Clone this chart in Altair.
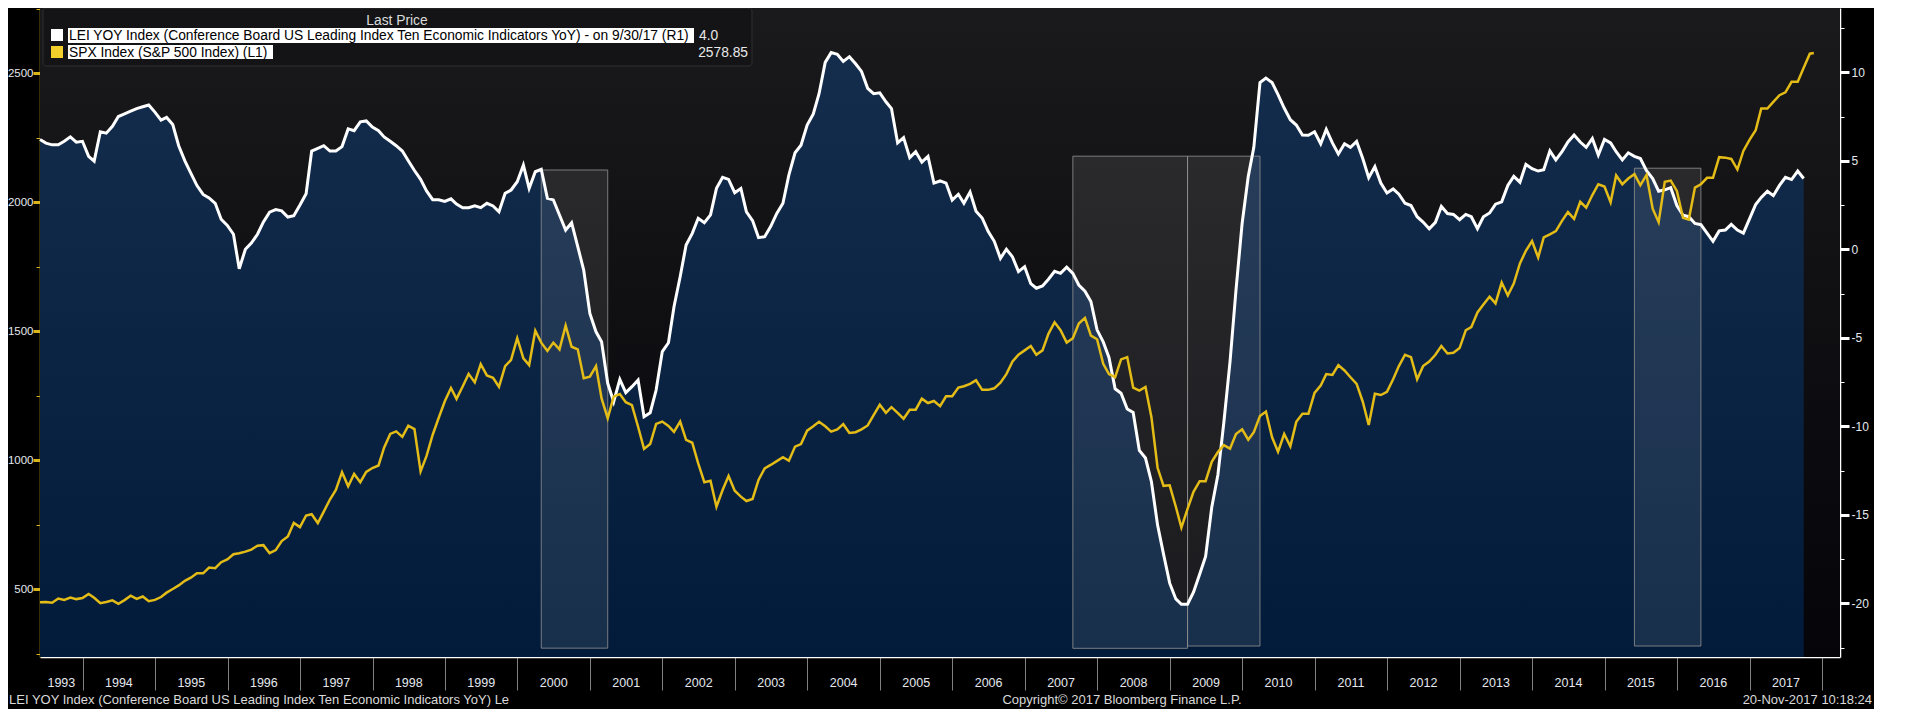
import altair as alt
import pandas as pd

# ---------------- data ----------------
lei_first_month = "1993-05-01"
lei_1993 = [6.2, 6.0, 5.9, 5.9, 6.1, 6.35, 6.05, 6.1]
lei_1994 = [5.25, 4.98, 6.64, 6.56, 6.95, 7.5, 7.65, 7.8, 7.95, 8.05, 8.15, 7.75]
lei_1995 = [7.3, 7.45, 7.05, 5.85, 5.0, 4.3, 3.6, 3.1, 2.9, 2.6, 1.7, 1.35]
lei_1996 = [0.85, -1.1, 0.0, 0.35, 0.85, 1.55, 2.1, 2.24, 2.17, 1.82, 1.9, 2.5]
lei_1997 = [3.14, 5.55, 5.7, 5.85, 5.55, 5.55, 5.8, 6.8, 6.7, 7.2, 7.25, 6.9]
lei_1998 = [6.7, 6.35, 6.1, 5.85, 5.55, 5.0, 4.45, 3.95, 3.3, 2.8, 2.8, 2.7]
lei_1999 = [2.85, 2.55, 2.35, 2.35, 2.45, 2.35, 2.6, 2.45, 2.12, 3.16, 3.35, 3.82]
lei_2000 = [4.76, 3.44, 4.38, 4.52, 2.88, 2.79, 1.94, 1.09, 1.5, 0.15, -1.17, -3.62]
lei_2001 = [-4.66, -5.22, -7.57, -8.61, -7.35, -8.1, -7.76, -7.38, -9.46, -9.23, -7.95, -5.78]
lei_2002 = [-5.28, -3.24, -1.55, 0.24, 0.9, 1.75, 1.5, 1.94, 3.44, 4.07, 3.95, 3.2]
lei_2003 = [3.44, 2.12, 1.62, 0.66, 0.71, 1.28, 2.03, 2.6, 4.2, 5.45, 5.88, 7.02]
lei_2004 = [7.65, 8.79, 10.56, 11.11, 11.01, 10.61, 10.88, 10.48, 10.05, 9.09, 8.79, 8.84]
lei_2005 = [8.33, 7.95, 6.01, 6.31, 5.18, 5.51, 4.92, 5.25, 3.74, 3.86, 3.74, 2.78]
lei_2006 = [3.11, 2.6, 3.23, 2.15, 1.77, 1.01, 0.45, -0.51, 0.0, -0.43, -1.26, -0.98]
lei_2007 = [-1.94, -2.2, -2.07, -1.69, -1.24, -1.36, -1.01, -1.36, -2.02, -2.37, -2.95, -4.55]
lei_2008 = [-5.23, -6.11, -7.88, -8.13, -9.02, -9.22, -11.36, -11.79, -13.13, -15.58, -17.22, -18.86]
lei_2009 = [-19.75, -20.05, -20.05, -19.37, -18.36, -17.35, -14.57, -12.73, -9.77, -6.36, -2.32, 1.46]
lei_2010 = [4.12, 5.76, 9.42, 9.67, 9.42, 8.74, 7.98, 7.32, 7.02, 6.46, 6.44, 6.64]
lei_2011 = [5.96, 6.77, 6.01, 5.38, 5.96, 5.76, 6.09, 5.13, 4.04, 4.67, 3.74, 3.18]
lei_2012 = [3.41, 3.11, 2.6, 2.47, 1.84, 1.54, 1.16, 1.52, 2.42, 2.02, 1.97, 1.67]
lei_2013 = [1.97, 1.84, 1.16, 1.84, 2.05, 2.55, 2.68, 3.61, 4.12, 3.79, 4.8, 4.55]
lei_2014 = [4.42, 4.49, 5.56, 5.05, 5.51, 6.06, 6.46, 6.06, 5.76, 6.26, 5.33, 6.21]
lei_2015 = [6.01, 5.51, 5.05, 5.45, 5.25, 5.13, 4.44, 3.99, 3.28, 3.36, 3.48, 2.47]
lei_2016 = [1.92, 1.84, 1.46, 1.39, 0.91, 0.45, 1.04, 1.09, 1.41, 1.09, 0.91, 1.72]
lei_2017 = [2.53, 2.93, 3.28, 3.03, 3.61, 4.07, 3.94, 4.42, 4.0]

spx_first_month = "1993-05-01"
spx_1993 = [450, 451, 448, 464, 459, 468, 462, 466]
spx_1994 = [482, 467, 446, 451, 457, 444, 458, 475, 463, 472, 454, 459]
spx_1995 = [470, 487, 501, 515, 533, 545, 562, 562, 584, 582, 605, 616]
spx_1996 = [636, 640, 646, 654, 669, 671, 640, 652, 687, 705, 757, 741]
spx_1997 = [786, 791, 757, 801, 848, 885, 954, 899, 947, 915, 955, 970]
spx_1998 = [980, 1049, 1102, 1112, 1091, 1134, 1121, 957, 1017, 1099, 1164, 1229]
spx_1999 = [1280, 1238, 1286, 1335, 1302, 1373, 1329, 1320, 1285, 1365, 1389, 1473]
spx_2000 = [1395, 1369, 1502, 1456, 1424, 1456, 1430, 1522, 1440, 1430, 1318, 1324]
spx_2001 = [1365, 1240, 1163, 1247, 1257, 1225, 1214, 1130, 1044, 1063, 1141, 1150]
spx_2002 = [1133, 1110, 1150, 1079, 1068, 988, 915, 921, 820, 885, 939, 882]
spx_2003 = [859, 842, 850, 924, 969, 982, 997, 1012, 998, 1053, 1063, 1115]
spx_2004 = [1132, 1149, 1132, 1111, 1120, 1140, 1106, 1109, 1120, 1135, 1175, 1215]
spx_2005 = [1184, 1206, 1184, 1161, 1196, 1196, 1239, 1222, 1230, 1210, 1248, 1248]
spx_2006 = [1282, 1287, 1296, 1310, 1273, 1273, 1279, 1301, 1334, 1383, 1409, 1426]
spx_2007 = [1443, 1409, 1426, 1490, 1535, 1504, 1456, 1473, 1530, 1552, 1483, 1469]
spx_2008 = [1374, 1334, 1322, 1391, 1400, 1282, 1270, 1284, 1167, 971, 901, 903]
spx_2009 = [820, 739, 812, 878, 919, 919, 994, 1032, 1059, 1045, 1102, 1120]
spx_2010 = [1080, 1109, 1172, 1189, 1089, 1033, 1102, 1054, 1149, 1180, 1180, 1261]
spx_2011 = [1290, 1334, 1331, 1369, 1348, 1322, 1296, 1227, 1137, 1258, 1253, 1265]
spx_2012 = [1314, 1365, 1409, 1400, 1314, 1365, 1383, 1409, 1443, 1414, 1417, 1435]
spx_2013 = [1504, 1516, 1573, 1604, 1634, 1608, 1689, 1639, 1685, 1763, 1812, 1850]
spx_2014 = [1786, 1864, 1876, 1888, 1928, 1962, 1936, 2002, 1979, 2028, 2070, 2061]
spx_2015 = [2000, 2104, 2070, 2092, 2109, 2066, 2106, 1975, 1923, 2079, 2084, 2044]
spx_2016 = [1940, 1933, 2057, 2070, 2095, 2095, 2175, 2173, 2168, 2127, 2199, 2242]
spx_2017 = [2279, 2363, 2363, 2389, 2415, 2426, 2467, 2467, 2521, 2576]
spx_last_date = "2017-11-20"
spx_last_value = 2578.85

box_start = ["2000-04-30", "2007-08-31", "2009-03-31", "2015-05-31"]
box_end = ["2001-03-31", "2009-03-31", "2010-03-31", "2016-04-30"]
box_top = [4.48, 5.26, 5.26, 4.58]
box_bottom = [-22.53, -22.54, -22.41, -22.41]

year_labels = list(range(1993, 2018))
year_boundaries = list(range(1994, 2019))
left_ticks = [250, 500, 750, 1000, 1250, 1500, 1750, 2000, 2250, 2500, 2750]
right_ticks = [-22.5, -20, -17.5, -15, -12.5, -10, -7.5, -5, -2.5, 0, 2.5, 5, 7.5, 10, 12.5]

x_domain = ["1993-05-31", "2018-04-01"]
left_domain = [237.6, 2753.0]
right_domain = [-23.03, 13.63]

legend_title = "Last Price"
legend_lei = "LEI YOY Index (Conference Board US Leading Index Ten Economic Indicators YoY) -  on 9/30/17  (R1)"
legend_lei_value = "4.0"
legend_spx = "SPX Index (S&P 500 Index)  (L1)"
legend_spx_value = "2578.85"
footer_left = "LEI YOY Index (Conference Board US Leading Index Ten Economic Indicators YoY) Le"
footer_mid = "Copyright\u00a9 2017 Bloomberg Finance L.P."
footer_right = "20-Nov-2017 10:18:24"

# ---------------- tables ----------------
lei_values = (lei_1993 + lei_1994 + lei_1995 + lei_1996 + lei_1997 + lei_1998 + lei_1999
              + lei_2000 + lei_2001 + lei_2002 + lei_2003 + lei_2004 + lei_2005 + lei_2006
              + lei_2007 + lei_2008 + lei_2009 + lei_2010 + lei_2011 + lei_2012 + lei_2013
              + lei_2014 + lei_2015 + lei_2016 + lei_2017)
spx_values = (spx_1993 + spx_1994 + spx_1995 + spx_1996 + spx_1997 + spx_1998 + spx_1999
              + spx_2000 + spx_2001 + spx_2002 + spx_2003 + spx_2004 + spx_2005 + spx_2006
              + spx_2007 + spx_2008 + spx_2009 + spx_2010 + spx_2011 + spx_2012 + spx_2013
              + spx_2014 + spx_2015 + spx_2016 + spx_2017)


def month_ends(first, n):
    d = pd.date_range(start=first, periods=n, freq="MS") + pd.offsets.MonthEnd(0)
    return [x.strftime("%Y-%m-%d") for x in d]


lei_df = pd.DataFrame({"date": month_ends(lei_first_month, len(lei_values)), "lei": lei_values})
spx_df = pd.DataFrame({"date": month_ends(spx_first_month, len(spx_values)) + [spx_last_date],
                       "spx": spx_values + [spx_last_value]})
box_df = pd.DataFrame({"start": box_start, "end": box_end, "top": box_top, "bottom": box_bottom})
bg_df = pd.DataFrame({"x0": [x_domain[0]], "x1": [x_domain[1]],
                      "y0": [right_domain[1]], "y1": [right_domain[0]]})

d0 = pd.Timestamp(x_domain[0])
d1 = pd.Timestamp(x_domain[1])
mids = []
for y in year_labels:
    a = max(pd.Timestamp(f"{y}-01-01"), d0)
    b = min(pd.Timestamp(f"{y + 1}-01-01"), d1)
    mids.append((a + (b - a) / 2).strftime("%Y-%m-%dT%H:%M:%S"))
year_df = pd.DataFrame({"mid": mids, "label": [str(y) for y in year_labels]})

# ---------------- style ----------------
W, H = 1800, 649
FONT = "Liberation Sans, Arial"
LABEL = "#e4e8ee"
YELLOW = "#e4bc17"
AXIS_YELLOW = "#d9b51c"


def dt(s):
    t = pd.Timestamp(s)
    return alt.DateTime(year=t.year, month=t.month, date=t.day, utc=True)


x_scale = alt.Scale(type="utc", domain=[dt(x_domain[0]), dt(x_domain[1])])
x_axis = alt.Axis(values=[dt(f"{y}-01-01") for y in year_boundaries], labels=False,
                  tickSize=33, tickColor="#808080", tickWidth=1, domainColor="#ffffff",
                  domainWidth=1.5, grid=False, title=None)

r_scale = alt.Scale(domain=right_domain, nice=False, zero=False)
right_axis = alt.Axis(
    orient="right", values=right_ticks, title=None, grid=False,
    labelExpr="datum.value % 5 === 0 ? (datum.value < 0 ? '-' + abs(datum.value) : '' + datum.value) : ''",
    tickSize={"condition": {"test": "datum.value % 5 === 0", "value": 9}, "value": 4},
    tickWidth={"condition": {"test": "datum.value % 5 === 0", "value": 3}, "value": 1},
    tickColor="#ffffff", domainColor="#ffffff", domainWidth=1.5,
    labelColor=LABEL, labelFont=FONT, labelFontSize=12, labelPadding=2,
)
l_scale = alt.Scale(domain=left_domain, nice=False, zero=False)
left_axis = alt.Axis(
    orient="left", values=left_ticks, title=None, grid=False,
    labelExpr="datum.value % 500 === 0 ? '' + datum.value : ''",
    tickSize={"condition": {"test": "datum.value % 500 === 0", "value": 7}, "value": 4},
    tickWidth={"condition": {"test": "datum.value % 500 === 0", "value": 3}, "value": 1},
    tickColor=AXIS_YELLOW, domainColor=AXIS_YELLOW, domainWidth=1.5,
    labelColor=LABEL, labelFont=FONT, labelFontSize=11.5, labelPadding=0,
)


def X(field):
    return alt.X(field, type="temporal", scale=x_scale, axis=x_axis)


def YR(field):
    return alt.Y(field, type="quantitative", scale=r_scale, axis=right_axis)


bg_grad = alt.LinearGradient(gradient="linear", x1=0, y1=0, x2=0, y2=1,
                             stops=[alt.GradientStop(color="#1a1a1c", offset=0),
                                    alt.GradientStop(color="#040409", offset=1)])
area_grad = alt.LinearGradient(gradient="linear", x1=0, y1=0, x2=0, y2=1,
                               stops=[alt.GradientStop(color="#152d4d", offset=0),
                                      alt.GradientStop(color="#021b3b", offset=1)])

bg = alt.Chart(bg_df).mark_rect(fill=bg_grad).encode(
    x=X("x0"), x2="x1:T", y=YR("y0"), y2="y1:Q")
area = alt.Chart(lei_df).mark_area(fill=area_grad, opacity=1).encode(
    x=X("date"), y=YR("lei"), y2=alt.Y2(datum=right_domain[0]))
boxes = alt.Chart(box_df).mark_rect(fill="#ffffff", fillOpacity=0.09, stroke="#8c8c8c",
                                    strokeOpacity=0.85, strokeWidth=1).encode(
    x=X("start"), x2="end:T", y=YR("top"), y2="bottom:Q")
lei_line = alt.Chart(lei_df).mark_line(color="#ffffff", strokeWidth=3).encode(
    x=X("date"), y=YR("lei"))
years = alt.Chart(year_df).mark_text(color=LABEL, font=FONT, fontSize=12.5, baseline="middle",
                                     align="center").encode(
    x=X("mid"), y=alt.value(675), text="label:N")

right_group = alt.layer(bg, area, boxes, lei_line, years)

spx_line = alt.Chart(spx_df).mark_line(color=YELLOW, strokeWidth=2.5).encode(
    x=X("date"), y=alt.Y("spx:Q", scale=l_scale, axis=left_axis))
left_group = alt.layer(spx_line)

one = pd.DataFrame({"k": [0]})


def txt(s, x, y, color, size, align="left"):
    return alt.Chart(one).mark_text(text=s, align=align, baseline="middle", color=color,
                                    fontSize=size, font=FONT).encode(
        x=alt.value(x), y=alt.value(y))


def rect(x1, x2, y1, y2, **kw):
    return alt.Chart(one).mark_rect(**kw).encode(
        x=alt.value(x1), x2=alt.value(x2), y=alt.value(y1), y2=alt.value(y2))


legend_group = alt.layer(
    rect(3, 712, 0, 58, fill="#141416", stroke="#2e2e30", strokeWidth=1, cornerRadius=3),
    txt(legend_title, 357, 13, "#dcdcdc", 13.8, "center"),
    rect(11, 23, 21, 33, fill="#ffffff"),
    rect(28, 654, 20, 35, fill="#ffffff"),
    txt(legend_lei, 29, 28, "#000000", 13.8),
    txt(legend_lei_value, 659, 28, "#e8e8e8", 13.8),
    rect(11, 23, 38, 50, fill="#f2cf2a"),
    rect(28, 233, 37, 51, fill="#ffffff"),
    txt(legend_spx, 29, 44.5, "#000000", 13.8),
    txt(legend_spx_value, 708, 44.5, "#e8e8e8", 13.8, "right"),
    txt(footer_left, -31, 692, "#dadada", 13),
    txt(footer_mid, 1082, 692, "#dadada", 13, "center"),
    txt(footer_right, 1832, 692, "#dadada", 13, "right"),
)

chart = alt.layer(right_group, left_group, legend_group).resolve_scale(
    y="independent"
).properties(
    width=W, height=H,
    padding={"left": 32, "top": 0, "right": 34, "bottom": 52},
    autosize=alt.AutoSizeParams(type="none"),
    background="#000000",
).configure_view(stroke=None)

chart.save("out.html", embed_options={"renderer": "svg", "actions": False})
